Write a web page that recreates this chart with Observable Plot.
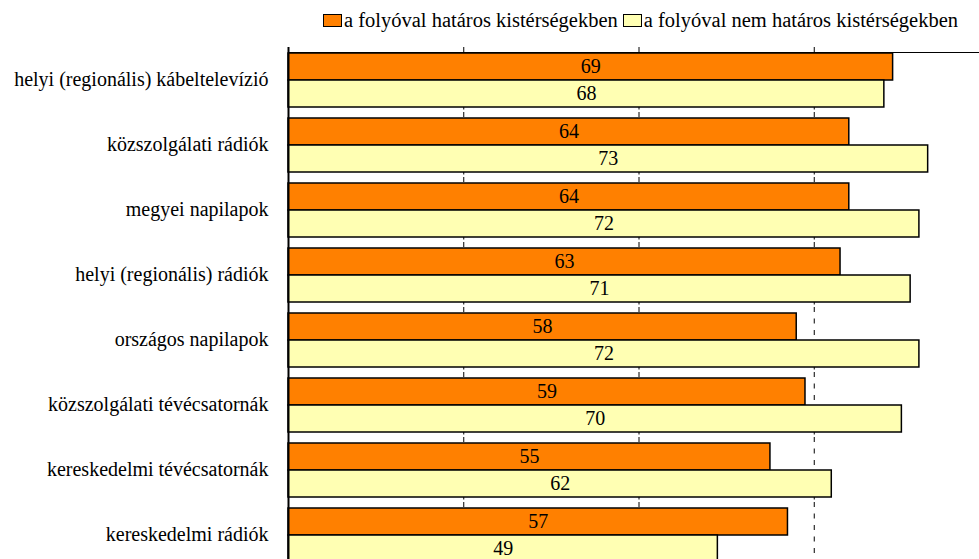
<!DOCTYPE html>
<html>
<head>
<meta charset="utf-8">
<script src="https://cdn.jsdelivr.net/npm/d3@7"></script>
<script src="https://cdn.jsdelivr.net/npm/@observablehq/plot@0.6"></script>
<style>
  html, body { margin: 0; padding: 0; background: #fff; }
  #legend { position: relative; height: 40px; font-family: "Liberation Serif", serif; font-size: 20.5px; color: #000; }
  #legend .items { position: absolute; left: 323px; top: 9px; display: flex; white-space: nowrap; align-items: center; }
  #legend .item { display: flex; align-items: center; margin-right: 5px; }
  #legend .sw { width: 17px; height: 11px; border: 1.5px solid #000; margin-right: 2px; }
  svg { display: block; }
  #chart svg text { font-family: "Liberation Serif", serif; }
</style>
</head>
<body>
<div id="legend"><div class="items"></div></div>
<div id="chart"></div>
<script>
const categories = [
  "helyi (regionális) kábeltelevízió",
  "közszolgálati rádiók",
  "megyei napilapok",
  "helyi (regionális) rádiók",
  "országos napilapok",
  "közszolgálati tévécsatornák",
  "kereskedelmi tévécsatornák",
  "kereskedelmi rádiók"
];
const series = ["a folyóval határos kistérségekben", "a folyóval nem határos kistérségekben"];
const borderValues = [69, 64, 64, 63, 58, 59, 55, 57];
const otherValues = [68, 73, 72, 71, 72, 70, 62, 49];
const gridTicks = [20, 40, 60];
const colors = ["#ff8000", "#ffffb3"];

const data = categories.flatMap((c, i) => [
  {category: c, series: series[0], value: borderValues[i]},
  {category: c, series: series[1], value: otherValues[i]}
]);

const items = document.querySelector("#legend .items");
series.forEach((s, i) => {
  const it = document.createElement("div");
  it.className = "item";
  const sw = document.createElement("span");
  sw.className = "sw";
  sw.style.background = colors[i];
  const t = document.createElement("span");
  t.textContent = s;
  it.appendChild(sw); it.appendChild(t);
  items.appendChild(it);
});

const chart = Plot.plot({
  width: 979,
  height: 519,
  marginTop: 7,
  marginBottom: -8,
  marginLeft: 288,
  marginRight: -10,
  style: {fontFamily: "Liberation Serif", fontSize: "20px", background: "white", color: "black"},
  x: {domain: [0, 80], axis: null},
  y: {domain: series, axis: null, padding: 0},
  fy: {domain: categories, paddingInner: 0.15, paddingOuter: 0.075, axis: "left", tickSize: 0, tickPadding: 20, label: null},
  color: {domain: series, range: colors},
  marks: [
    Plot.ruleX(gridTicks, {stroke: "#000", strokeWidth: 1, strokeDasharray: "5,6.5", insetTop: -5, insetBottom: -5}),
    Plot.barX(data, {fy: "category", y: "series", x: "value", fill: "series", stroke: "#000", strokeWidth: 1.5}),
    Plot.text(data, {fy: "category", y: "series", x: d => d.value / 2, text: d => String(d.value), fontSize: 20, fill: "#000"}),
    Plot.frame({facet: "super", stroke: "#000", strokeWidth: 1}),
    Plot.ruleX([0], {stroke: "#000", strokeWidth: 2, insetTop: -5, insetBottom: -5})
  ]
});
document.getElementById("chart").appendChild(chart);
</script>
</body>
</html>
